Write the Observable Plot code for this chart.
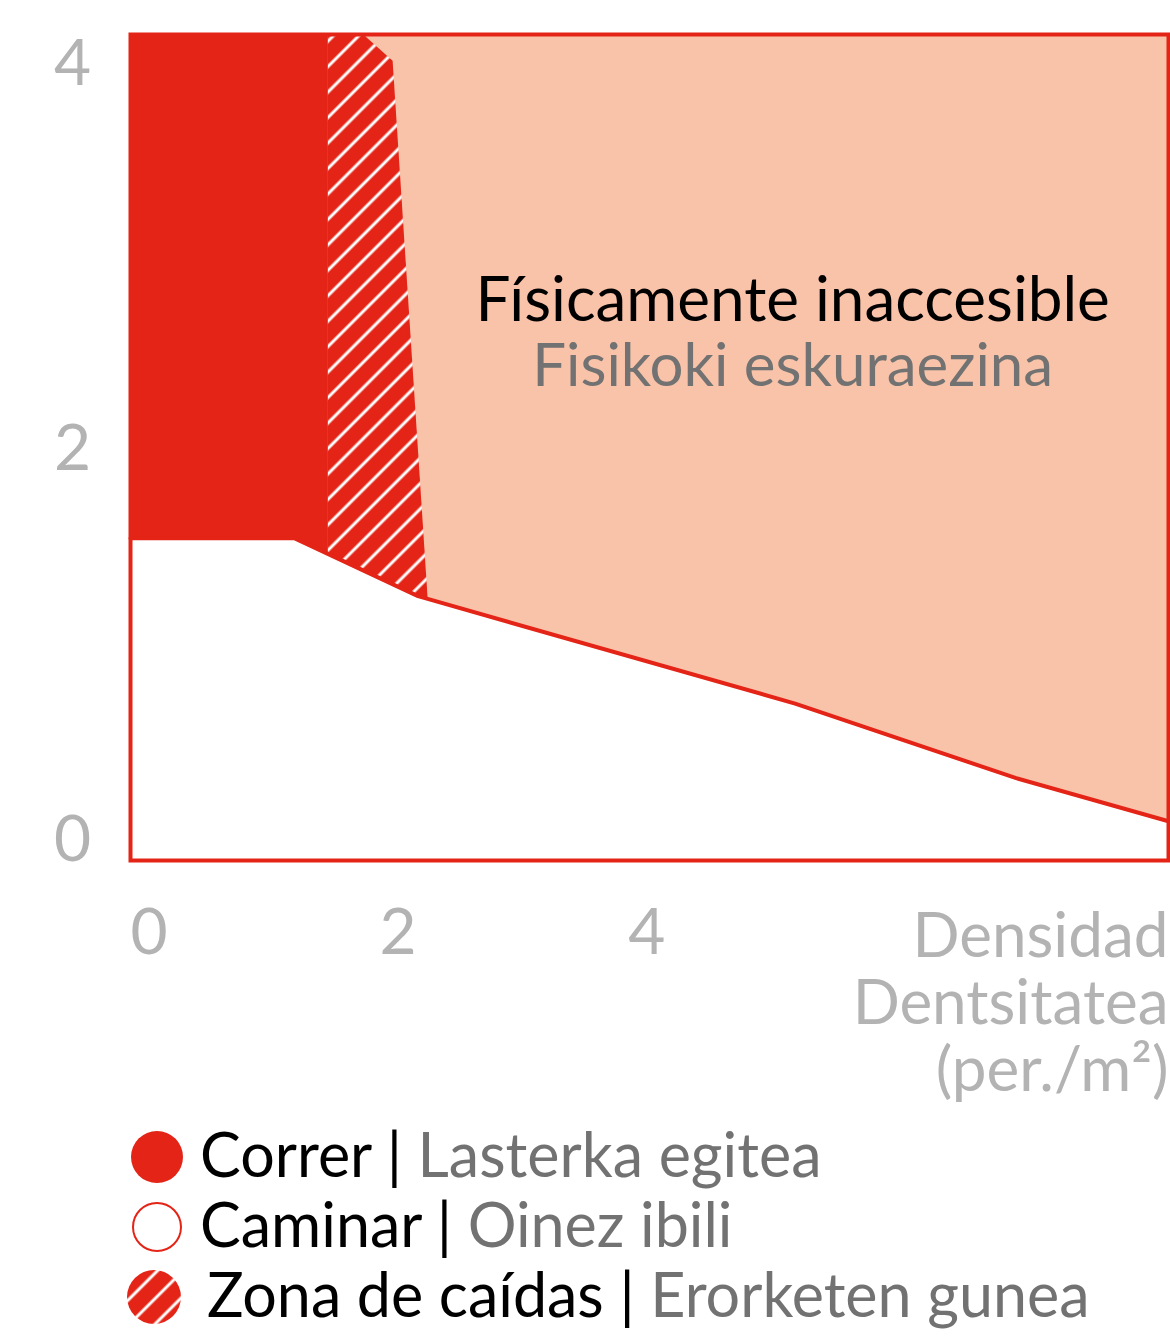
<!DOCTYPE html>
<html><head><meta charset="utf-8">
<script src="https://cdn.jsdelivr.net/npm/d3@7"></script>
<script src="https://cdn.jsdelivr.net/npm/@observablehq/plot@0.6"></script>
<style>
body{margin:0;background:#fff;}
#chart svg{display:block;}
</style></head><body>
<svg width="0" height="0" style="position:absolute">
<defs>
<pattern id="hatch" patternUnits="userSpaceOnUse" width="18" height="18" patternTransform="rotate(45)">
<rect width="18" height="18" fill="#E32416"/>
<line x1="9" y1="0" x2="9" y2="18" stroke="#fff" stroke-width="3"/>
</pattern>
</defs></svg>
<div id="chart"></div>
<div id="legend"></div>
<script>
// ---- data ----
const xTicks = [0, 2, 4];
const yTicks = [0, 2, 4];
const xMax = 8.34;
const xTitle = ["Densidad", "Dentsitatea", "(per./m²)"];
const walkX = [0, 1.32, 2.31, 5.34, 7.11, 8.34];
const walkY = [1.56, 1.56, 1.28, 0.76, 0.40, 0.19];
const runX = [0, 1.59];
const runY = [4, 4];
const fallX = [1.59, 1.87, 2.11, 2.39];
const fallY = [4, 4, 3.87, 1.28];
const zoneEs = "Físicamente inaccesible";
const zoneEu = "Fisikoki eskuraezina";
const legendEs = ["Correr", "Caminar", "Zona de caídas"];
const legendEu = ["Lasterka egitea", "Oinez ibili", "Erorketen gunea"];

// ---- styles ----
const red = "#E32416", peach = "#F9C3AA", tickGray = "#B3B3B3", subGray = "#727272";
const font = "Lato, sans-serif";

const walk = walkX.map((x, i) => ({x, y: walkY[i]}));
const run = runX.map((x, i) => ({x, y: runY[i]}));
const fall = fallX.map((x, i) => ({x, y: fallY[i]}));

const yLabelDy = {0: -20, 2: 2, 4: 30};

const chart = Plot.plot({
  width: 1170, height: 1110,
  marginLeft: 130, marginRight: 2, marginTop: 34, marginBottom: 250,
  x: {domain: [0, xMax], axis: null},
  y: {domain: [0, 4], axis: null},
  style: {fontFamily: font, background: "transparent", overflow: "visible"},
  marks: [
    Plot.frame({fill: peach}),
    Plot.areaY(run, {x: "x", y1: 0, y2: "y", fill: red}),
    Plot.areaY(fall, {x: "x", y1: 0, y2: "y", fill: "url(#hatch)"}),
    Plot.areaY(walk, {x: "x", y1: 0, y2: "y", fill: "white"}),
    Plot.line(walk, {x: "x", y: "y", stroke: red, strokeWidth: 4}),
    Plot.frame({stroke: red, strokeWidth: 4}),
    Plot.text([zoneEs], {x: 5.32, y: 2.615, text: d => d, lineAnchor: "bottom", fontSize: 62, fill: "#000"}),
    Plot.text([zoneEu], {x: 5.32, y: 2.30, text: d => d, lineAnchor: "bottom", fontSize: 60, fill: subGray}),
    Plot.text(xTicks, {x: d => d, frameAnchor: "bottom", dy: 73, text: d => String(d), textAnchor: "start", lineAnchor: "middle", fontSize: 64, fill: tickGray}),
    Plot.text([xTitle.join("\n")], {frameAnchor: "bottom-right", dy: 49, text: d => d, textAnchor: "end", lineAnchor: "top", lineHeight: 1.08, fontSize: 62, fill: tickGray}),
    ...yTicks.map(t => Plot.text([t], {y: d => d, frameAnchor: "left", dx: -58, dy: yLabelDy[t], text: d => String(d), textAnchor: "middle", lineAnchor: "middle", fontSize: 64, fill: tickGray}))
  ]
});
document.getElementById("chart").appendChild(chart);

// ---- legend ----
const leg = d3.select("#legend").append("svg").attr("width", 1170).attr("height", 226).style("display", "block");
const swatch = [
  {fill: red, stroke: "none", sw: 0, cx: 157, r: 26},
  {fill: "#fff", stroke: red, sw: 2, cx: 157, r: 24},
  {fill: "url(#hatch)", stroke: "none", sw: 0, cx: 154, r: 27}
];
const textX = [200, 200, 207];
legendEs.forEach((es, i) => {
  const cy = 47 + 70 * i;
  leg.append("circle").attr("cx", swatch[i].cx).attr("cy", cy).attr("r", swatch[i].r)
    .attr("fill", swatch[i].fill).attr("stroke", swatch[i].stroke).attr("stroke-width", swatch[i].sw);
  const t = leg.append("text").attr("x", textX[i]).attr("y", cy + 20)
    .attr("font-family", font).attr("font-size", 61);
  t.append("tspan").attr("fill", "#000").text(es + " | ");
  t.append("tspan").attr("fill", subGray).text(legendEu[i]);
});
</script>
</body></html>
